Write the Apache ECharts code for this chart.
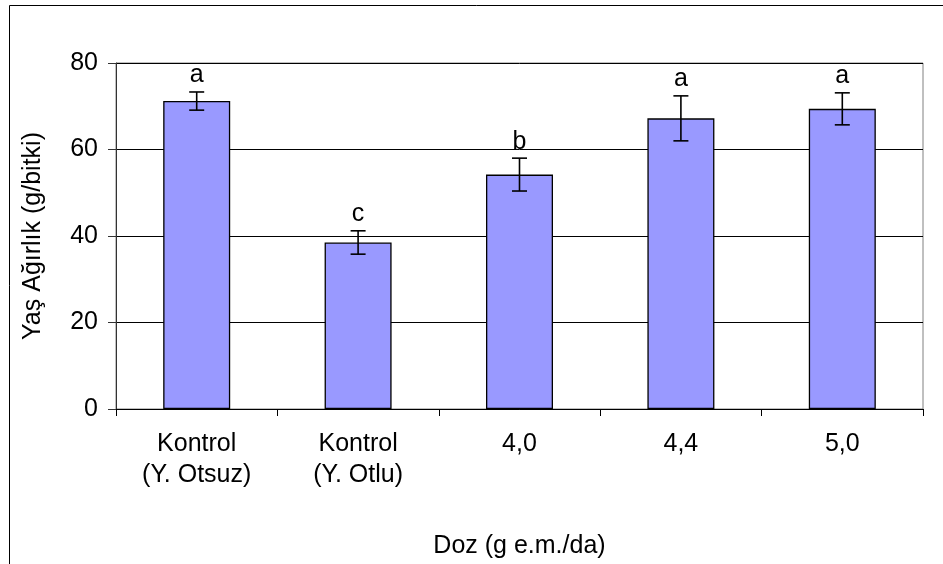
<!DOCTYPE html>
<html>
<head>
<meta charset="utf-8">
<script src="https://cdn.jsdelivr.net/npm/echarts@6/dist/echarts.min.js"></script>
<style>
  html, body { margin: 0; padding: 0; background: #fff; }
  #chart { width: 943px; height: 564px; }
</style>
</head>
<body>
<div id="chart"></div>
<script>
// Fresh weight per treatment, with standard error and significance letters
const categories = ['Kontrol\n(Y. Otsuz)', 'Kontrol\n(Y. Otlu)', '4,0', '4,4', '5,0'];
const meanWeight = [71.2, 38.5, 54.2, 67.2, 69.4];
const stdError = [2.1, 2.7, 3.8, 5.2, 3.7];
const groupLetters = ['a', 'c', 'b', 'a', 'a'];
const yTicks = { min: 0, max: 80, interval: 20 };

const FONT = 'Liberation Sans, Arial, sans-serif';
const FS = 25;

const errorData = meanWeight.map((v, i) => [i, v - stdError[i], v + stdError[i], groupLetters[i]]);

const chart = echarts.init(document.getElementById('chart'), null, { renderer: 'canvas' });

chart.setOption({
  backgroundColor: '#ffffff',
  animation: false,
  textStyle: { fontFamily: FONT },
  graphic: [{
    type: 'rect',
    shape: { x: 9.5, y: 5.5, width: 1000, height: 1000 },
    style: { fill: 'none', stroke: '#000', lineWidth: 1 },
    z: 0
  }],
  grid: {
    left: 116, right: 20, top: 63, bottom: 155,
    containLabel: false,
    outerBoundsMode: 'none',
    show: true, borderColor: '#808080', borderWidth: 1, backgroundColor: 'transparent'
  },
  xAxis: {
    type: 'category',
    data: categories,
    name: 'Doz (g e.m./da)',
    nameLocation: 'middle',
    nameGap: 125,
    nameTextStyle: { fontSize: FS, color: '#000', fontFamily: FONT },
    axisLine: { lineStyle: { color: '#000', width: 1 } },
    axisTick: { show: true, length: 7, lineStyle: { color: '#000' } },
    axisLabel: { fontSize: FS, color: '#000', fontFamily: FONT, margin: 20, lineHeight: 31, interval: 0 }
  },
  yAxis: {
    type: 'value',
    min: yTicks.min, max: yTicks.max, interval: yTicks.interval,
    name: 'Yaş Ağırlık (g/bitki)',
    nameLocation: 'middle',
    nameGap: 70,
    nameTextStyle: { fontSize: FS, color: '#000', fontFamily: FONT },
    axisLine: { show: true, lineStyle: { color: '#333', width: 1 } },
    axisTick: { show: true, length: 8, lineStyle: { color: '#333' } },
    axisLabel: { fontSize: FS, color: '#000', fontFamily: FONT, margin: 18 },
    splitLine: { show: true, lineStyle: { color: '#000', width: 1 } }
  },
  series: [
    {
      type: 'bar',
      data: meanWeight,
      barWidth: 67,
      itemStyle: { color: '#9999FF', borderColor: '#000', borderWidth: 1.3 },
      z: 2
    },
    {
      type: 'custom',
      data: errorData,
      z: 5,
      renderItem: function (params, api) {
        const x = api.value(0);
        const lo = api.coord([x, api.value(1)]);
        const hi = api.coord([x, api.value(2)]);
        const half = 7.5;
        const st = { stroke: '#000', lineWidth: 1.6 };
        return {
          type: 'group',
          children: [
            { type: 'line', shape: { x1: hi[0], y1: hi[1], x2: lo[0], y2: lo[1] }, style: st },
            { type: 'line', shape: { x1: hi[0] - half, y1: hi[1], x2: hi[0] + half, y2: hi[1] }, style: st },
            { type: 'line', shape: { x1: lo[0] - half, y1: lo[1], x2: lo[0] + half, y2: lo[1] }, style: st },
            {
              type: 'text',
              style: {
                x: hi[0], y: hi[1] - 4,
                text: groupLetters[params.dataIndex],
                fill: '#000',
                font: FS + 'px ' + FONT,
                textAlign: 'center',
                textVerticalAlign: 'bottom'
              }
            }
          ]
        };
      }
    }
  ]
});
</script>
</body>
</html>
